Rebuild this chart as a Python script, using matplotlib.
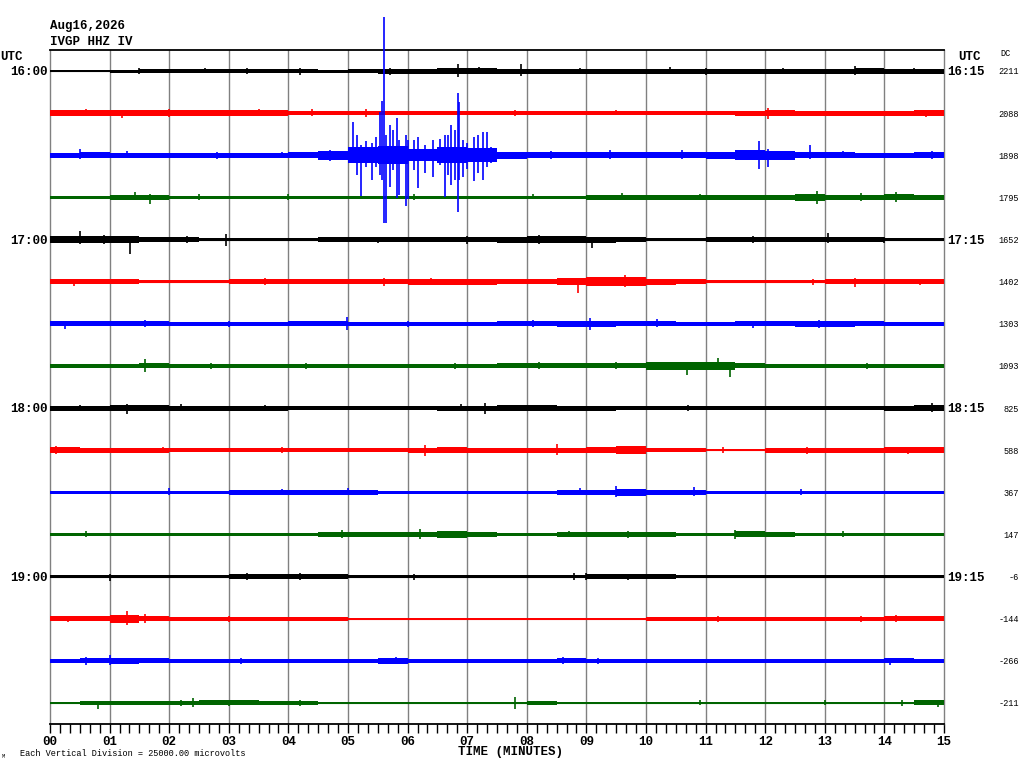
import numpy as np
import matplotlib
matplotlib.use("Agg")
import matplotlib.pyplot as plt

# ---------------- data ----------------
title_date = "Aug16,2026"
station = "IVGP HHZ IV"
left_hours = ["16:00", "17:00", "18:00", "19:00"]
right_hours = ["16:15", "17:15", "18:15", "19:15"]
hour_rows = [0, 4, 8, 12]
dc_values = ["2211", "2088", "1898", "1795", "1652", "1402", "1303", "1093",
             "825", "588", "367", "147", "-6", "-144", "-266", "-211"]
minute_labels = ["00", "01", "02", "03", "04", "05", "06", "07",
                 "08", "09", "10", "11", "12", "13", "14", "15"]
scale_note = "Each Vertical Division = 25000.00 microvolts"

# half-width of each trace (pixels) per half-minute segment
env_0 = [1.2, 1.2, 1.5, 1.8, 1.8, 1.8, 1.8, 1.8, 1.8, 1.5, 2.2, 2.5, 2.5, 3.0, 2.8,
         2.5, 2.5, 2.5, 2.5, 2.5, 2.5, 2.5, 2.5, 2.5, 2.5, 2.5, 2.5, 3.0, 2.5, 2.5]
env_1 = [3.2, 3.2, 3.2, 3.2, 3.2, 3.0, 3.0, 3.0, 2.2, 2.2, 2.2, 2.2, 1.8, 1.8, 2.2,
         1.8, 2.2, 2.2, 2.2, 1.8, 1.8, 1.8, 1.8, 2.5, 3.2, 2.5, 2.5, 2.5, 2.5, 2.8]
env_2 = [2.5, 2.8, 2.5, 2.5, 2.5, 2.5, 2.5, 2.5, 2.8, 4.5, 8.0, 9.0, 6.0, 8.0, 7.0,
         3.5, 3.0, 3.0, 3.0, 3.0, 3.0, 3.0, 3.5, 5.0, 4.5, 3.0, 2.8, 2.5, 2.5, 2.8]
env_3 = [1.8, 1.8, 2.5, 2.5, 1.8, 1.8, 1.8, 1.8, 1.8, 1.8, 1.8, 1.8, 1.8, 1.8, 1.8,
         1.8, 1.8, 1.8, 2.5, 2.5, 2.5, 2.5, 2.5, 2.5, 2.5, 3.2, 2.5, 2.5, 3.0, 2.5]
env_4 = [3.2, 3.2, 3.2, 2.8, 2.8, 1.8, 1.8, 1.8, 1.8, 2.5, 2.5, 2.5, 2.5, 2.5, 2.5,
         3.0, 3.2, 3.2, 3.0, 2.5, 1.8, 1.8, 2.5, 2.5, 2.5, 2.5, 2.5, 2.5, 1.8, 1.8]
env_5 = [2.5, 2.5, 2.5, 1.8, 1.8, 1.8, 2.5, 2.5, 2.5, 2.5, 2.5, 2.5, 3.0, 3.0, 3.0,
         2.5, 2.5, 3.8, 4.2, 4.2, 3.0, 2.5, 1.8, 1.8, 1.8, 1.8, 2.5, 2.5, 2.5, 2.5]
env_6 = [2.5, 2.5, 2.5, 2.5, 1.8, 1.8, 1.8, 1.8, 2.5, 2.5, 2.2, 1.8, 1.8, 1.8, 1.8,
         2.5, 2.5, 2.8, 3.2, 2.5, 2.5, 1.8, 1.8, 2.5, 2.5, 3.0, 3.0, 2.5, 2.2, 2.2]
env_7 = [1.8, 1.8, 1.8, 2.5, 1.8, 1.8, 1.8, 1.8, 1.8, 1.8, 1.8, 1.8, 1.8, 1.8, 1.8,
         2.5, 2.5, 2.5, 2.5, 2.5, 3.8, 3.8, 3.8, 2.5, 1.8, 1.8, 1.8, 1.8, 1.8, 1.8]
env_8 = [2.5, 2.5, 3.2, 3.2, 2.5, 2.5, 2.5, 2.5, 1.8, 1.8, 1.8, 1.8, 1.8, 2.5, 2.5,
         3.2, 3.2, 2.5, 2.5, 1.8, 1.8, 1.8, 1.8, 1.8, 1.8, 1.8, 1.8, 1.8, 2.5, 3.2]
env_9 = [3.2, 2.5, 2.5, 2.5, 1.8, 1.8, 1.8, 1.8, 1.8, 1.8, 1.8, 1.8, 2.5, 3.2, 2.5,
         2.5, 2.5, 2.5, 3.2, 3.8, 1.8, 1.8, 1.2, 1.2, 2.5, 2.5, 2.5, 2.5, 3.0, 3.2]
env_10 = [1.8, 1.8, 1.8, 1.8, 1.8, 1.8, 2.5, 2.5, 2.5, 2.5, 2.5, 1.8, 1.8, 1.8, 1.8,
          1.8, 1.8, 2.5, 2.5, 3.2, 2.5, 2.5, 1.8, 1.8, 1.8, 1.8, 1.8, 1.8, 1.8, 1.8]
env_11 = [1.8, 1.8, 1.8, 1.8, 1.8, 1.8, 1.8, 1.8, 1.8, 2.5, 2.5, 2.5, 2.5, 3.2, 2.5,
          1.8, 1.8, 2.5, 2.5, 2.5, 2.5, 1.8, 1.8, 3.0, 2.5, 1.8, 1.8, 1.8, 1.8, 1.8]
env_12 = [1.8, 1.8, 1.8, 1.8, 1.8, 1.8, 2.5, 2.5, 2.5, 2.5, 1.8, 1.8, 1.8, 1.8, 1.8,
          1.8, 1.8, 1.8, 2.5, 2.5, 2.5, 1.8, 1.8, 1.8, 1.8, 1.8, 1.8, 1.8, 1.8, 1.8]
env_13 = [2.5, 2.5, 3.8, 2.5, 1.8, 1.8, 1.8, 1.8, 1.8, 1.8, 1.2, 1.2, 1.2, 1.2, 1.2,
          1.2, 1.2, 1.2, 1.2, 1.2, 1.8, 1.8, 1.8, 1.8, 1.8, 1.8, 1.8, 2.2, 2.5, 2.5]
env_14 = [1.8, 2.5, 3.2, 2.5, 1.8, 1.8, 1.8, 1.8, 1.8, 1.8, 2.2, 2.8, 1.8, 1.8, 1.8,
          1.8, 1.8, 2.5, 1.8, 1.8, 1.8, 1.8, 1.8, 1.8, 1.8, 1.8, 1.8, 1.8, 2.5, 1.8]
env_15 = [1.2, 1.8, 1.8, 1.8, 2.2, 2.5, 2.5, 1.8, 1.8, 1.2, 1.2, 1.2, 1.2, 1.2, 1.2,
          1.2, 1.8, 1.2, 1.2, 1.2, 1.2, 1.2, 1.2, 1.2, 1.2, 1.2, 1.2, 1.2, 1.2, 2.5]

# individual excursions: (row, minute, up px, down px)
spikes = [
    (0, 1.5, 3, 3), (0, 2.6, 3, 2), (0, 3.3, 3, 3), (0, 4.2, 3, 4), (0, 5.7, 3, 4),
    (0, 6.85, 7, 6), (0, 7.2, 4, 3), (0, 7.9, 7, 5), (0, 8.9, 3, 3), (0, 10.4, 4, 3),
    (0, 11.0, 3, 4), (0, 12.3, 3, 3), (0, 13.5, 5, 4), (0, 14.5, 3, 3),
    (1, 0.6, 4, 3), (1, 1.2, 3, 5), (1, 2.0, 4, 4), (1, 3.5, 4, 3), (1, 4.4, 4, 3),
    (1, 5.3, 4, 4), (1, 7.8, 3, 3), (1, 9.5, 3, 2), (1, 12.05, 5, 6), (1, 14.7, 3, 4),
    (2, 0.5, 6, 4), (2, 1.3, 4, 3), (2, 2.8, 3, 4), (2, 3.9, 3, 3), (2, 4.7, 5, 6),
    (2, 5.08, 33, 8), (2, 5.15, 20, 20), (2, 5.21, 10, 41), (2, 5.30, 14, 12),
    (2, 5.40, 12, 25), (2, 5.47, 18, 12), (2, 5.53, 43, 20), (2, 5.57, 54, 25),
    (2, 5.61, 138, 68), (2, 5.63, 20, 68), (2, 5.70, 30, 32), (2, 5.75, 25, 15),
    (2, 5.83, 37, 43), (2, 5.86, 15, 40), (2, 5.98, 20, 51), (2, 6.01, 15, 44),
    (2, 6.10, 15, 15), (2, 6.18, 18, 33), (2, 6.30, 10, 18), (2, 6.43, 15, 22),
    (2, 6.55, 16, 10), (2, 6.62, 20, 42), (2, 6.67, 20, 20), (2, 6.72, 30, 30),
    (2, 6.80, 25, 25), (2, 6.84, 62, 57), (2, 6.87, 53, 25), (2, 6.93, 15, 22),
    (2, 7.00, 12, 14), (2, 7.12, 18, 26), (2, 7.18, 20, 18), (2, 7.26, 23, 25),
    (2, 7.33, 23, 12), (2, 7.40, 8, 8),
    (2, 8.4, 4, 4), (2, 9.4, 5, 4), (2, 10.6, 5, 4), (2, 11.9, 14, 14),
    (2, 12.05, 6, 12), (2, 12.75, 10, 4), (2, 13.3, 4, 3), (2, 14.8, 4, 4),
    (3, 1.43, 5, 3), (3, 1.68, 3, 7), (3, 2.5, 3, 3), (3, 4.0, 3, 3), (3, 6.1, 3, 3),
    (3, 8.1, 3, 2), (3, 9.6, 4, 3), (3, 10.9, 3, 3), (3, 12.87, 6, 7), (3, 13.6, 4, 4),
    (3, 14.2, 5, 5),
    (4, 0.5, 9, 4), (4, 0.9, 5, 4), (4, 1.34, 3, 14), (4, 2.3, 4, 3), (4, 2.95, 6, 6),
    (4, 5.5, 3, 3), (4, 7.0, 4, 4), (4, 8.2, 5, 4), (4, 9.1, 3, 8), (4, 11.8, 4, 3),
    (4, 13.05, 7, 3), (4, 14.0, 3, 3),
    (5, 0.4, 3, 4), (5, 3.6, 4, 3), (5, 5.6, 4, 4), (5, 6.4, 4, 3), (5, 8.86, 4, 11),
    (5, 9.65, 7, 5), (5, 10.4, 3, 3), (5, 12.8, 3, 3), (5, 13.5, 4, 5), (5, 14.6, 3, 3),
    (6, 0.25, 3, 5), (6, 1.6, 4, 3), (6, 3.0, 3, 3), (6, 4.98, 7, 6), (6, 6.0, 3, 3),
    (6, 8.1, 4, 3), (6, 9.06, 6, 6), (6, 10.18, 5, 3), (6, 11.8, 3, 4), (6, 12.9, 4, 4),
    (7, 1.6, 7, 6), (7, 2.7, 3, 3), (7, 4.3, 3, 3), (7, 6.8, 3, 3), (7, 8.2, 4, 3),
    (7, 9.5, 4, 3), (7, 10.68, 4, 9), (7, 11.2, 8, 4), (7, 11.41, 3, 11), (7, 13.7, 3, 3),
    (8, 0.5, 3, 3), (8, 1.3, 4, 6), (8, 2.2, 4, 3), (8, 3.6, 3, 3), (8, 6.9, 4, 3),
    (8, 7.3, 5, 6), (8, 10.7, 3, 3), (8, 14.8, 5, 4),
    (9, 0.1, 4, 4), (9, 1.9, 3, 3), (9, 3.9, 3, 3), (9, 6.3, 5, 6), (9, 8.5, 6, 5),
    (9, 11.3, 3, 3), (9, 12.7, 3, 4), (9, 14.4, 3, 4),
    (10, 2.0, 4, 3), (10, 3.9, 3, 3), (10, 5.0, 4, 3), (10, 8.9, 4, 3), (10, 9.5, 6, 5),
    (10, 10.8, 5, 4), (10, 12.6, 3, 3),
    (11, 0.6, 3, 3), (11, 4.9, 4, 4), (11, 6.2, 5, 5), (11, 8.7, 3, 3), (11, 9.7, 3, 4),
    (11, 11.5, 4, 5), (11, 13.3, 3, 3),
    (12, 1.0, 3, 4), (12, 3.3, 4, 3), (12, 4.2, 4, 3), (12, 6.1, 3, 3), (12, 8.8, 4, 3),
    (12, 9.0, 4, 3), (12, 9.7, 3, 3),
    (13, 0.3, 3, 3), (13, 1.3, 8, 6), (13, 1.6, 5, 4), (13, 3.0, 3, 3), (13, 11.2, 3, 3),
    (13, 13.6, 3, 3), (13, 14.2, 4, 3),
    (14, 0.6, 4, 4), (14, 1.0, 6, 4), (14, 3.2, 3, 3), (14, 5.8, 4, 3), (14, 8.6, 4, 3),
    (14, 9.2, 3, 3), (14, 14.1, 3, 4),
    (15, 0.8, 2, 6), (15, 2.2, 3, 3), (15, 2.4, 5, 4), (15, 3.0, 3, 3), (15, 4.2, 3, 3),
    (15, 7.8, 6, 6), (15, 10.9, 3, 2), (15, 13.0, 3, 2), (15, 14.3, 3, 3), (15, 14.9, 3, 4),
]

envelopes = [env_0, env_1, env_2, env_3, env_4, env_5, env_6, env_7,
             env_8, env_9, env_10, env_11, env_12, env_13, env_14, env_15]
segment_edges = np.arange(0, 15.01, 0.5)

# ---------------- style / layout ----------------
W, H = 1024, 768
colors = ["#000000", "#ff0000", "#0000ff", "#006400"]
ROW_PX = 42.13
MONO = "Liberation Mono"

fig = plt.figure(figsize=(W / 100, H / 100), dpi=100)
fig.patch.set_facecolor("white")
ax = fig.add_axes([50 / W, 44 / H, 894 / W, 674 / H])
ax.set_xlim(0, 15)
ax.set_ylim(15 + 21 / ROW_PX, -21 / ROW_PX)


def fx(x):
    return x / W


def fy(y):
    return 1 - y / H


for m in range(1, 15):
    ax.axvline(m, color="#808080", lw=1.0, zorder=1)

for i, env in enumerate(envelopes):
    c = colors[i % 4]
    e = np.array(list(env) + [env[-1]]) / ROW_PX
    ax.fill_between(segment_edges, i - e, i + e, step="post", color=c, lw=0, zorder=3)
    ax.plot([0, 15], [i, i], color=c, lw=0.8, zorder=3)

for (r, t, up, dn) in spikes:
    ax.vlines(t, r - up / ROW_PX, r + dn / ROW_PX, color=colors[r % 4], lw=1.2,
              zorder=4, clip_on=False)

for s in ["left", "right"]:
    ax.spines[s].set_color("#808080")
    ax.spines[s].set_linewidth(1.0)
ax.spines["top"].set_color("black")
ax.spines["top"].set_linewidth(1.3)
ax.spines["bottom"].set_color("black")
ax.spines["bottom"].set_linewidth(1.3)

ax.set_yticks([])
ax.set_xticks(range(16))
ax.set_xticklabels(minute_labels, fontfamily=MONO, fontweight="bold", fontsize=9)
ax.set_xticks(np.arange(0, 15.001, 1 / 6), minor=True)
ax.tick_params(axis="x", which="both", direction="out", length=6.5, width=1.0,
               color="black", pad=2)

# texts
bold = dict(fontfamily=MONO, fontweight="bold", fontsize=9)
small = dict(fontfamily=MONO, fontsize=6.2)
fig.text(fx(50), fy(26), title_date, ha="left", va="center", **bold)
fig.text(fx(50), fy(42), station, ha="left", va="center", **bold)
fig.text(fx(0), fy(57), "UTC", ha="left", va="center", **bold)
fig.text(fx(958), fy(57), "UTC", ha="left", va="center", **bold)
fig.text(fx(1000), fy(54), "DC", ha="left", va="center", **small)

for k, r in enumerate(hour_rows):
    yp = 72 + r * ROW_PX
    fig.text(fx(48), fy(yp), left_hours[k], ha="right", va="center", **bold)
    fig.text(fx(947), fy(yp), right_hours[k], ha="left", va="center", **bold)

for i, v in enumerate(dc_values):
    yp = 72 + i * ROW_PX
    fig.text(fx(1019), fy(yp), v, ha="right", va="center", **small)

fig.text(fx(510), fy(752), "TIME (MINUTES)", ha="center", va="center", **bold)
fig.text(fx(20), fy(754), scale_note, ha="left", va="center", **small)
fig.text(fx(2), fy(757), "M", ha="left", va="center", fontfamily=MONO, fontsize=4)

fig.savefig("out.png", dpi=100, facecolor="white")
